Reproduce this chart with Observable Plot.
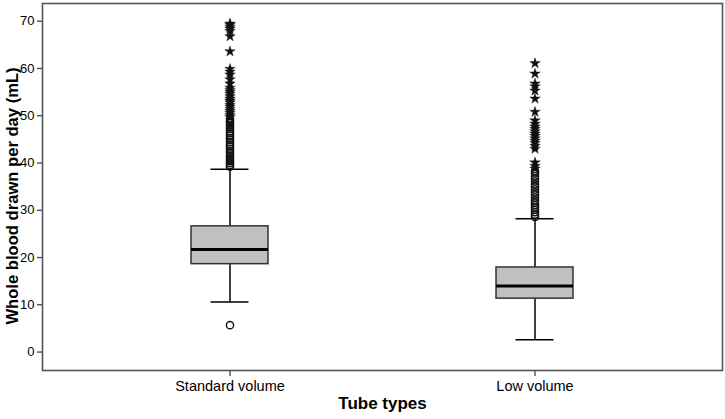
<!DOCTYPE html>
<html>
<head>
<meta charset="utf-8">
<script src="https://cdn.jsdelivr.net/npm/d3@7"></script>
<script src="https://cdn.jsdelivr.net/npm/@observablehq/plot@0.6"></script>
<style>
  html, body { margin: 0; padding: 0; background: #fff; }
  #chart svg { display: block; }
</style>
</head>
<body>
<div id="chart"></div>
<script>
// ---- Data ----
const tubeTypes = ["Standard volume", "Low volume"];
const lowerWhisker = [10.6, 2.6];
const q1 = [18.6, 11.3];
const median = [21.7, 14.0];
const q3 = [26.6, 17.9];
const upperWhisker = [38.7, 28.2];

// mild outliers (circles)
const standardCircles = [49.3, 48.9, 48.5, 48.1, 47.6, 47.2, 46.7, 46.3, 45.8, 45.3, 44.9, 44.4,
  43.9, 43.5, 43.0, 42.5, 42.1, 41.6, 41.2, 40.8, 40.4, 40.0, 39.6, 39.2, 5.7];
const lowCircles = [38.3, 37.8, 37.2, 36.7, 36.1, 35.5, 35.0, 34.4, 33.8, 33.3, 32.7, 32.1,
  31.6, 31.1, 30.6, 30.1, 29.6, 29.1, 28.6];
// extreme outliers (stars)
const standardStars = [69.5, 69.2, 68.8, 68.4, 67.9, 66.8, 63.6, 59.9, 59.3, 58.7, 57.7, 56.8,
  55.9, 55.4, 55.0, 54.6, 54.1, 53.6, 53.2, 52.8, 52.3, 51.9, 51.4, 51.0, 50.6, 50.1, 49.7];
const lowStars = [61.1, 58.9, 56.8, 56.2, 55.3, 53.6, 50.8, 49.0, 48.3, 47.7, 47.2, 46.7, 46.2,
  45.7, 45.2, 44.7, 44.2, 43.6, 43.0, 40.1, 39.4, 38.8];

const yTicks = [0, 10, 20, 30, 40, 50, 60, 70];
const xTitle = "Tube types";
const yTitle = "Whole blood drawn per day (mL)";

// ---- Tables built from arrays ----
const boxes = tubeTypes.map((t, i) => ({
  type: t, lo: lowerWhisker[i], q1: q1[i], med: median[i], q3: q3[i], hi: upperWhisker[i]
}));
const circles = [
  ...standardCircles.map(v => ({type: tubeTypes[0], v})),
  ...lowCircles.map(v => ({type: tubeTypes[1], v}))
];
const stars = [
  ...standardStars.map(v => ({type: tubeTypes[0], v})),
  ...lowStars.map(v => ({type: tubeTypes[1], v}))
];

const font = "'Liberation Sans', Arial, sans-serif";

const chart = Plot.plot({
  width: 725,
  height: 419,
  marginLeft: 42,
  marginRight: 3,
  marginTop: 3,
  marginBottom: 49,
  style: {fontFamily: font, background: "#fff", color: "#000", overflow: "visible"},
  x: {type: "band", domain: tubeTypes, paddingInner: 0.7475, paddingOuter: 0.488, label: null},
  y: {domain: [-3.9, 73.75], label: null},
  marks: [
    // whiskers
    Plot.ruleX(boxes, {x: "type", y1: "lo", y2: "q1", stroke: "#000", strokeWidth: 1.5}),
    Plot.ruleX(boxes, {x: "type", y1: "q3", y2: "hi", stroke: "#000", strokeWidth: 1.5}),
    // whisker caps
    Plot.tickY(boxes, {x: "type", y: "lo", stroke: "#000", strokeWidth: 1.5, insetLeft: 19.5, insetRight: 19.5}),
    Plot.tickY(boxes, {x: "type", y: "hi", stroke: "#000", strokeWidth: 1.5, insetLeft: 19.5, insetRight: 19.5}),
    // boxes
    Plot.barY(boxes, {x: "type", y1: "q1", y2: "q3", fill: "#c0c0c0", stroke: "#333", strokeWidth: 1.5}),
    // medians
    Plot.tickY(boxes, {x: "type", y: "med", stroke: "#000", strokeWidth: 3}),
    // outliers
    Plot.dot(circles, {x: "type", y: "v", r: 3.6, fill: "none", stroke: "#111", strokeWidth: 1.4}),
    Plot.dot(stars, {x: "type", y: "v", r: 3.3, symbol: "star", fill: "#111", stroke: "#111", strokeWidth: 0.4}),
    // frame
    Plot.frame({stroke: "#555", strokeWidth: 1.6}),
    // axes
    Plot.axisY({ticks: yTicks, tickSize: 5, tickPadding: 3, fontSize: 13, stroke: "#444", strokeWidth: 1.3, label: null}),
    Plot.axisX({tickSize: 6, tickPadding: 4, fontSize: 14.5, stroke: "#444", strokeWidth: 1.3, label: null}),
    // titles
    Plot.text([xTitle], {frameAnchor: "bottom", dy: 38, fontSize: 17, fontWeight: "bold", fill: "#000"}),
    Plot.text([yTitle], {frameAnchor: "left", textAnchor: "middle", dx: -30, dy: 9, rotate: -90, fontSize: 16.6, fontWeight: "bold", fill: "#000"})
  ]
});
document.getElementById("chart").appendChild(chart);
</script>
</body>
</html>
